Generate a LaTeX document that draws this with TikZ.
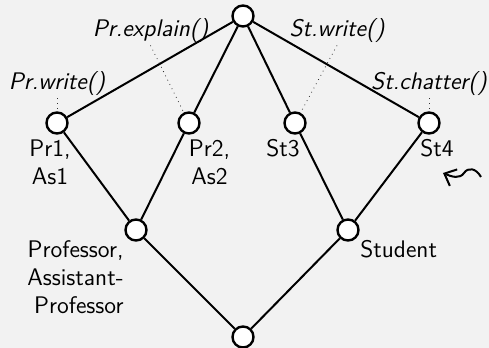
\documentclass[tikz,border=0pt]{standalone}
\usepackage{tikz}
\usetikzlibrary{arrows.meta}
\tikzset{>=latex}
\definecolor{paper}{HTML}{F2F2F2}

\tikzset{
    elem/.style={circle, draw, fill=white, line width=1.2pt, inner sep=0pt, minimum size=10.5pt},
    link/.style={line width=1pt},
    hint/.style={dotted, line width=0.4pt, black!80},
    lbl/.style={font=\large\sffamily, inner sep=0pt},
    meth/.style={font=\large\sffamily\itshape, inner sep=1pt}
}

\begin{document}
\begin{tikzpicture}[x=0.5pt, y=-0.5pt]
    \fill[paper] (0,0) rectangle (489,348);
    \useasboundingbox (0,0) rectangle (489,348);

    % lattice elements
    \node[elem] (top)  at (243,16)  {};
    \node[elem] (pr1)  at (57,123)  {};
    \node[elem] (pr2)  at (189,123) {};
    \node[elem] (st3)  at (295,123) {};
    \node[elem] (st4)  at (429,123) {};
    \node[elem] (prof) at (136,230) {};
    \node[elem] (stud) at (348,230) {};
    \node[elem] (bot)  at (243,337) {};

    \draw[link] (top) -- (pr1);
    \draw[link] (top) -- (pr2);
    \draw[link] (top) -- (st3);
    \draw[link] (top) -- (st4);
    \draw[link] (pr1) -- (prof);
    \draw[link] (pr2) -- (prof);
    \draw[link] (st3) -- (stud);
    \draw[link] (st4) -- (stud);
    \draw[link] (prof) -- (bot);
    \draw[link] (stud) -- (bot);

    % object labels
    \node[lbl, align=center, anchor=north, shift={(-7,16)}] (lpr1) at (pr1) {Pr1,\\As1};
    \node[lbl, align=center, anchor=north, shift={(20.5,16)}] (lpr2) at (pr2) {Pr2,\\As2};
    \node[lbl, anchor=north, shift={(-12,16)}] (lst3) at (st3) {St3};
    \node[lbl, anchor=north, shift={(8,16)}] (lst4) at (st4) {St4};
    \node[lbl, align=right, anchor=north east, shift={(-12,10)}] (lprof) at (prof) {Professor,\\Assistant-\\Professor};
    \node[lbl, anchor=north west, shift={(12,10)}] (lstud) at (stud) {Student};

    % method labels
    \node[meth, anchor=base, shift={(0,-33)}] (mpr1) at (pr1) {Pr.write()};
    \node[meth, anchor=base, shift={(-38.5,-86)}] (mpr2) at (pr2) {Pr.explain()};
    \node[meth, anchor=base, shift={(42,-86)}] (mst3) at (st3) {St.write()};
    \node[meth, anchor=base, shift={(0,-33)}] (mst4) at (st4) {St.chatter()};

    \draw[hint] (mpr1.south) -- (pr1);
    \draw[hint] (mpr2.south) -- (pr2);
    \draw[hint] (mst3.south) -- (st3);
    \draw[hint] (mst4.south) -- (st4);

    % squiggle
    \coordinate (sqA) at (481,177);
    \coordinate (sqB) at (443,173);
    \draw[line width=1pt, -{Straight Barb[length=5pt, width=9pt]}] (sqA)
        .. controls (476,168) and (468,167) .. (464,173)
        .. controls (460,179) and (452,177) .. (sqB);
\end{tikzpicture}
\end{document}
